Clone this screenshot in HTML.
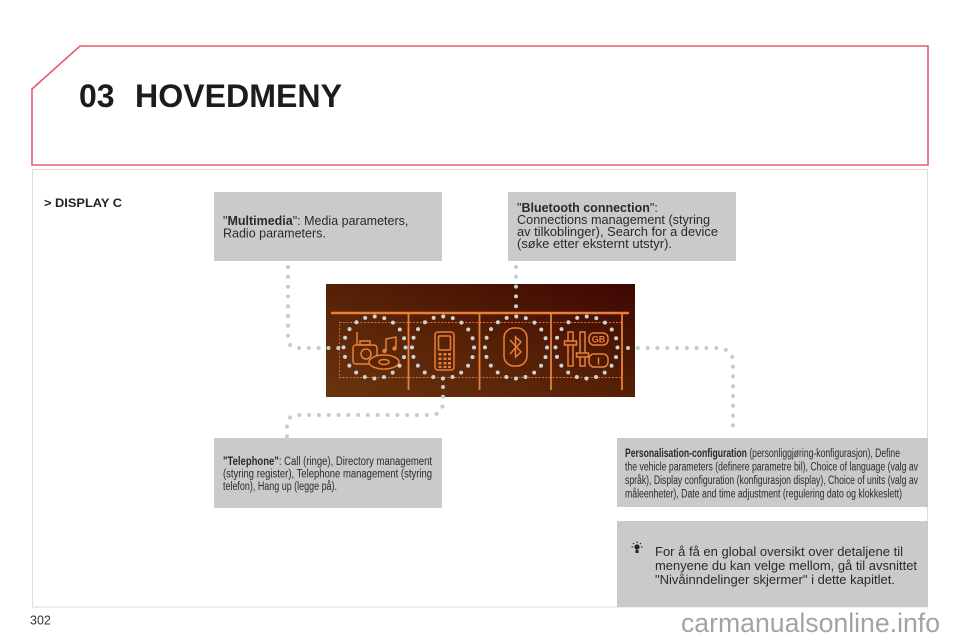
<!DOCTYPE html>
<html><head><meta charset="utf-8"><style>
html,body{margin:0;padding:0;background:#fff;width:960px;height:640px;overflow:hidden}
svg{display:block}
</style></head><body>
<svg width="960" height="640" viewBox="0 0 960 640" xmlns="http://www.w3.org/2000/svg" font-family="'Liberation Sans', Arial, sans-serif">
<defs>
<linearGradient id="scr" x1="0" y1="1" x2="1" y2="0">
<stop offset="0" stop-color="#6a3410"/>
<stop offset="0.5" stop-color="#552006"/>
<stop offset="1" stop-color="#3e0703"/>
</linearGradient>
</defs>

<!-- header frame -->
<polygon points="80,46 928,46 928,165 32,165 32,89" fill="#fff" stroke="#e55b70" stroke-width="1.6"/>
<!-- content frame -->
<rect x="32.5" y="169.5" width="895" height="437.5" fill="none" stroke="#dcdcdc" stroke-width="1"/>

<text x="79" y="107" font-size="32" font-weight="bold" fill="#1c1c1c">03</text>
<text x="135" y="107" font-size="32" font-weight="bold" fill="#1c1c1c" textLength="207" lengthAdjust="spacingAndGlyphs">HOVEDMENY</text>
<text x="44" y="207" font-size="12" font-weight="bold" fill="#222" textLength="78" lengthAdjust="spacingAndGlyphs">&gt; DISPLAY C</text>

<!-- boxes -->
<rect x="214" y="192" width="228" height="69" fill="#c9cacc"/>
<rect x="508" y="192" width="228" height="69" fill="#c9cacc"/>
<rect x="214" y="438" width="228" height="70" fill="#c9cacc"/>
<rect x="617" y="438" width="311" height="69" fill="#c9cacc"/>
<rect x="617" y="521" width="311" height="86" fill="#c9cacc"/>

<!-- Multimedia text -->
<g font-size="12.5" fill="#2a2a2a">
<text x="223" y="225">"<tspan font-weight="bold">Multimedia</tspan>": Media parameters,</text>
<text x="223" y="237.5">Radio parameters.</text>
</g>

<!-- Bluetooth text -->
<g font-size="12.5" fill="#2a2a2a">
<text x="517" y="212">"<tspan font-weight="bold">Bluetooth connection</tspan>":</text>
<text x="517" y="224" textLength="193" lengthAdjust="spacingAndGlyphs">Connections management (styring</text>
<text x="517" y="236" textLength="201" lengthAdjust="spacingAndGlyphs">av tilkoblinger), Search for a device</text>
<text x="517" y="248" textLength="155" lengthAdjust="spacingAndGlyphs">(søke etter eksternt utstyr).</text>
</g>

<!-- Telephone text (condensed) -->
<g font-size="11.5" fill="#2a2a2a">
<text x="223" y="465" textLength="209" lengthAdjust="spacingAndGlyphs"><tspan font-weight="bold">"Telephone"</tspan>: Call (ringe), Directory management</text>
<text x="223" y="477.5" textLength="209" lengthAdjust="spacingAndGlyphs">(styring register), Telephone management (styring</text>
<text x="223" y="490" textLength="114" lengthAdjust="spacingAndGlyphs">telefon), Hang up (legge på).</text>
</g>

<!-- Personalisation text (condensed) -->
<g font-size="11.5" fill="#2a2a2a">
<text x="625" y="457" textLength="275" lengthAdjust="spacingAndGlyphs"><tspan font-weight="bold">Personalisation-configuration</tspan> (personliggjøring-konfigurasjon), Define</text>
<text x="625" y="470.5" textLength="293" lengthAdjust="spacingAndGlyphs">the vehicle parameters (definere parametre bil), Choice of language (valg av</text>
<text x="625" y="484" textLength="293" lengthAdjust="spacingAndGlyphs">språk), Display configuration (konfigurasjon display), Choice of units (valg av</text>
<text x="625" y="497.5" textLength="277" lengthAdjust="spacingAndGlyphs">måleenheter), Date and time adjustment (regulering dato og klokkeslett)</text>
</g>

<!-- Tip -->
<g fill="#222">
<circle cx="637" cy="547" r="2.6"/>
<g stroke="#222" stroke-width="1.1">
<line x1="637" y1="541.5" x2="637" y2="543"/>
<line x1="631.5" y1="547" x2="633" y2="547"/>
<line x1="641" y1="547" x2="642.5" y2="547"/>
<line x1="633" y1="543" x2="634" y2="544"/>
<line x1="641" y1="543" x2="640" y2="544"/>
</g>
<rect x="635.5" y="550" width="3" height="3"/>
</g>
<g font-size="12.5" fill="#2a2a2a">
<text x="655" y="556" textLength="248" lengthAdjust="spacingAndGlyphs">For å få en global oversikt over detaljene til</text>
<text x="655" y="570" textLength="262" lengthAdjust="spacingAndGlyphs">menyene du kan velge mellom, gå til avsnittet</text>
<text x="655" y="584" textLength="240" lengthAdjust="spacingAndGlyphs">"Nivåinndelinger skjermer" i dette kapitlet.</text>
</g>

<text x="30" y="624.5" font-size="12.5" fill="#333">302</text>
<text x="681" y="632" font-size="26.5" fill="#a3a3a3" textLength="259" lengthAdjust="spacingAndGlyphs">carmanualsonline.info</text>

<!-- screen -->
<rect x="326" y="284" width="309" height="113" fill="url(#scr)"/>
<g stroke="#e8803a" fill="none">
<line x1="331" y1="313" x2="629" y2="313" stroke-width="2.6"/>
<line x1="408.5" y1="313" x2="408.5" y2="390" stroke-width="1.8"/>
<line x1="479.5" y1="313" x2="479.5" y2="390" stroke-width="1.8"/>
<line x1="551" y1="313" x2="551" y2="390" stroke-width="1.8"/>
<line x1="622" y1="313" x2="622" y2="390" stroke-width="1.8"/>
<rect x="339.5" y="322.5" width="283" height="55" stroke-width="0.9" stroke-dasharray="2 1.5" opacity="0.85"/>
</g>

<!-- icons -->
<g stroke="#e8803a" fill="none" stroke-width="1.5">
<!-- multimedia -->
<line x1="357" y1="332" x2="357" y2="345"/>
<rect x="353" y="345" width="24" height="19" rx="3"/>
<rect x="360" y="341" width="10" height="4"/>
<circle cx="366" cy="354" r="5"/>
<ellipse cx="384" cy="362" rx="15" ry="7" fill="#5a2507"/>
<ellipse cx="384" cy="362" rx="5" ry="2.5"/>
<path d="M386,351 L386,339 L396,337 L396,348"/>
<!-- phone -->
<rect x="435" y="332" width="19" height="38" rx="3"/>
<rect x="438.5" y="336" width="12" height="14" rx="1"/>
<!-- bluetooth -->
<rect x="504" y="328" width="23" height="38" rx="10"/>
<path d="M510,340 L521,352 L515.5,357 L515.5,337 L521,342 L510,354"/>
<!-- settings -->
<rect x="568" y="332" width="5" height="34"/>
<rect x="580" y="332" width="5" height="34"/>
<rect x="564.5" y="341" width="12" height="4" fill="#5a2507"/>
<rect x="576.5" y="353" width="12" height="4" fill="#5a2507"/>
<rect x="589" y="333" width="19" height="12" rx="5"/>
<rect x="589" y="354" width="19" height="13" rx="5"/>
</g>
<g fill="#e8803a">
<circle cx="384.5" cy="351" r="2.2"/>
<circle cx="394.5" cy="348.5" r="2.2"/>
<rect x="438.5" y="353" width="3" height="2.5"/><rect x="443.5" y="353" width="3" height="2.5"/><rect x="448" y="353" width="3" height="2.5"/>
<rect x="438.5" y="357.5" width="3" height="2.5"/><rect x="443.5" y="357.5" width="3" height="2.5"/><rect x="448" y="357.5" width="3" height="2.5"/>
<rect x="438.5" y="362" width="3" height="2.5"/><rect x="443.5" y="362" width="3" height="2.5"/><rect x="448" y="362" width="3" height="2.5"/>
<rect x="438.5" y="366" width="3" height="2"/><rect x="443.5" y="366" width="3" height="2"/><rect x="448" y="366" width="3" height="2"/>
<text x="598.5" y="342.5" font-size="9" font-weight="bold" text-anchor="middle">GB</text>
<text x="598.5" y="364.5" font-size="10" font-weight="bold" text-anchor="middle">I</text>
</g>

<!-- dotted circles -->
<g fill="none" stroke="#d0d1d5" stroke-width="4" stroke-linecap="round" stroke-dasharray="0 9.74">
<circle cx="374.5" cy="347.5" r="31"/>
<circle cx="443" cy="347.5" r="31"/>
<circle cx="516" cy="347.5" r="31"/>
<circle cx="586.5" cy="347.5" r="31"/>
</g>

<!-- connectors -->
<g fill="none" stroke="#c8c9cc" stroke-width="4" stroke-linecap="round" stroke-dasharray="0 9.8">
<path d="M288,267 L288,338 Q288,348 298,348 L340,348"/>
<path d="M443,387 L443,402 Q443,415 430,415 L298,415 Q287,415 287,426 L287,437"/>
<path d="M516,267 L516,316"/>
<path d="M628,348 L715,348 Q733,348 733,362 L733,434"/>
</g>
</svg>
</body></html>
